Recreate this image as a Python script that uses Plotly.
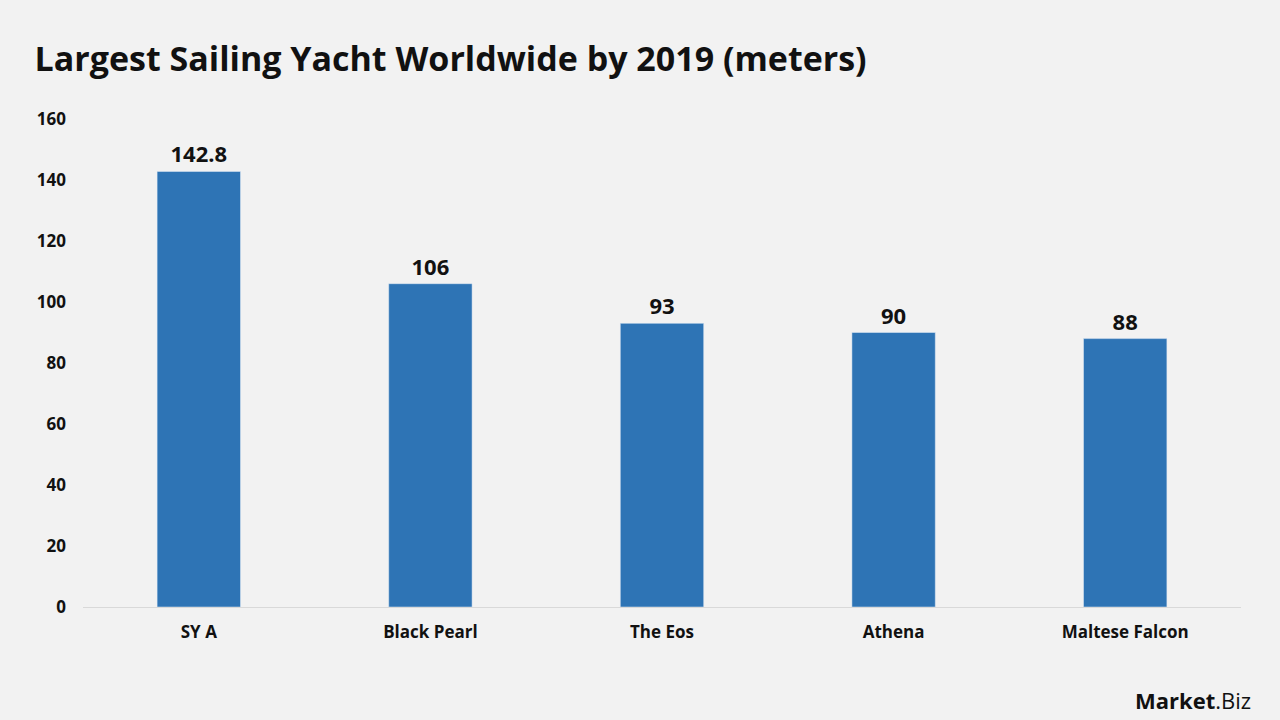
import plotly.graph_objects as go

categories = ["SY A", "Black Pearl", "The Eos", "Athena", "Maltese Falcon"]
values = [142.8, 106, 93, 90, 88]
labels = ["142.8", "106", "93", "90", "88"]

F = "Open Sans"
fig = go.Figure(go.Bar(
    x=categories, y=values, text=labels, textposition="outside",
    marker_color="#2e74b5", cliponaxis=False,
    textfont=dict(size=22, color="#111", family=F, weight="bold"),
))
fig.update_layout(
    width=1280, height=720,
    paper_bgcolor="#f2f2f2", plot_bgcolor="#f2f2f2",
    margin=dict(l=83, r=39, t=119, b=113),
    bargap=0.64, showlegend=False,
    font=dict(family=F, color="#111"),
    title=dict(text="<b>Largest Sailing Yacht Worldwide by 2019 (meters)</b>",
               x=0.027, xanchor="left", y=0.918, yanchor="middle",
               font=dict(size=34, color="#111")),
)
fig.update_yaxes(range=[0, 160], dtick=20, showgrid=False, zeroline=False,
                 tickfont=dict(size=17, weight="bold"), ticks="", ticklen=0,
                 ticklabelstandoff=16)
fig.update_xaxes(showline=True, linecolor="#d9d9d9", linewidth=1,
                 tickfont=dict(size=17, weight="bold"), ticklabelstandoff=10)
fig.add_annotation(text="<b>Market</b>.Biz", xref="paper", yref="paper",
                   x=1.01, y=-0.155, xanchor="right", yanchor="top",
                   showarrow=False, font=dict(size=22, color="#111"))
fig.write_html("out.html", config={"displayModeBar": False},
               post_script="document.body.style.margin='0';")
